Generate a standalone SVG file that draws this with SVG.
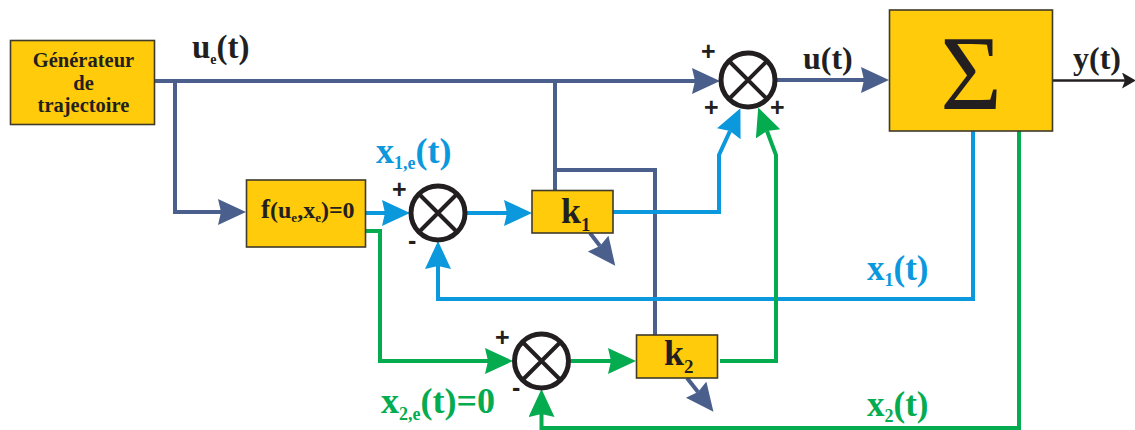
<svg xmlns="http://www.w3.org/2000/svg" width="1135" height="430" viewBox="0 0 1135 430">
<style>
.box{fill:#ffcb0a;stroke:#3f3a2a;stroke-width:1.6}
.sum{fill:#fff;stroke:#231f20;stroke-width:5}
.x{stroke:#231f20;stroke-width:4;fill:none}
.c{fill:none;stroke-width:4;stroke-linejoin:miter}
.n{stroke:#4a5f8c}.b{stroke:#0c98dd}.g{stroke:#04ab4f}
text{font-family:"Liberation Serif","Times New Roman",serif;font-weight:bold}
.k{fill:#231f20}.tb{fill:#0c98dd}.tg{fill:#04ab4f}
.s{font-size:32px}
.sg{font-family:"Liberation Sans",Arial,sans-serif;font-size:25px;fill:#231f20}
</style>
<defs>
<marker id="hn" markerUnits="userSpaceOnUse" markerWidth="30" markerHeight="28" refX="3" refY="13" orient="auto" viewBox="0 0 30 28"><path d="M0,0L28,13L0,26L3,13Z" fill="#4a5f8c"/></marker>
<marker id="hb" markerUnits="userSpaceOnUse" markerWidth="30" markerHeight="28" refX="3" refY="13" orient="auto" viewBox="0 0 30 28"><path d="M0,0L28,13L0,26L3,13Z" fill="#0c98dd"/></marker>
<marker id="hg" markerUnits="userSpaceOnUse" markerWidth="30" markerHeight="28" refX="3" refY="13" orient="auto" viewBox="0 0 30 28"><path d="M0,0L28,13L0,26L3,13Z" fill="#04ab4f"/></marker>
<marker id="hk" markerUnits="userSpaceOnUse" markerWidth="16" markerHeight="18" refX="3" refY="8" orient="auto" viewBox="0 0 16 18"><path d="M0,0L14,8L0,16L3,8Z" fill="#231f20"/></marker>
</defs>
<g id="connectors">
<path class="c n" d="M154,81H695" marker-end="url(#hn)"/>
<path class="c n" d="M175,81V212H221" marker-end="url(#hn)"/>
<path class="c n" d="M555,81V190"/>
<path class="c n" d="M555,170H655V335"/>
<path class="c n" d="M776,80H864" marker-end="url(#hn)"/>
<path class="c n" d="M590,233L600,246" marker-end="url(#hn)"/>
<path class="c n" d="M687,378L698,392" marker-end="url(#hn)"/>
<path d="M1052,80.500H1125" fill="none" stroke="#231f20" stroke-width="2.500" marker-end="url(#hk)"/>
<path class="c b" d="M365,213H385" marker-end="url(#hb)"/>
<path class="c b" d="M466,213H507" marker-end="url(#hb)"/>
<path class="c b" d="M613,212H719V155L730,131" marker-end="url(#hb)"/>
<path class="c b" d="M973,131V299H438V266" marker-end="url(#hb)"/>
<path class="c g" d="M365,231H380V361H488" marker-end="url(#hg)"/>
<path class="c g" d="M571,361H611" marker-end="url(#hg)"/>
<path class="c g" d="M720,361H776V155L767,131" marker-end="url(#hg)"/>
<path class="c g" d="M1019,131V428H541.500V414" marker-end="url(#hg)"/>
</g>
<g id="generateur"><rect class="box" x="10.500" y="40.500" width="144" height="84"/>
<text class="k" text-anchor="middle" font-size="20.500" x="83.500" y="67">Générateur</text>
<text class="k" text-anchor="middle" font-size="20.500" x="83.500" y="90">de</text>
<text class="k" text-anchor="middle" font-size="20.500" x="83.500" y="112">trajectoire</text></g>
<g id="f"><rect class="box" x="246.500" y="180" width="119" height="67"/>
<text class="k" x="261" y="218" font-size="27">f<tspan font-size="24">(u</tspan><tspan font-size="13" dy="4">e</tspan><tspan font-size="24" dy="-4">,x</tspan><tspan font-size="13" dy="4">e</tspan><tspan font-size="24" dy="-4">)=0</tspan></text></g>
<g id="k1"><rect class="box" x="532" y="190.500" width="81" height="42.500"/>
<text class="k" x="561" y="223" font-size="36">k<tspan font-size="19" dy="8">1</tspan></text></g>
<g id="k2"><rect class="box" x="636.500" y="335" width="81" height="43"/>
<text class="k" x="664" y="365" font-size="36">k<tspan font-size="19" dy="8">2</tspan></text></g>
<g id="plant"><rect class="box" x="889.500" y="10" width="163" height="121"/>
<text x="971" y="109" text-anchor="middle" font-size="106" class="k" style="font-weight:normal">Σ</text></g>
<g id="sum1"><circle class="sum" cx="748" cy="80" r="27"/><path class="x" d="M729,61L767,99M767,61L729,99"/></g>
<g id="sum2"><circle class="sum" cx="438" cy="213" r="27"/><path class="x" d="M419,194L457,232M457,194L419,232"/></g>
<g id="sum3"><circle class="sum" cx="541.500" cy="361" r="27"/><path class="x" d="M522.500,342L560.500,380M560.500,342L522.500,380"/></g>
<g id="labels">
<text class="k" x="192" y="58" font-size="33">u<tspan font-size="14" dy="6">e</tspan><tspan dy="-6">(t)</tspan></text>
<text class="k s" x="803" y="69">u(t)</text>
<text class="k s" x="1073" y="69">y(t)</text>
<text class="tb" x="376" y="163" font-size="36">x<tspan font-size="18" dy="6">1,e</tspan><tspan dy="-6">(t)</tspan></text>
<text class="tg" x="381" y="413" font-size="36">x<tspan font-size="18" dy="7">2,e</tspan><tspan dy="-7">(t)=0</tspan></text>
<text class="tb" x="867" y="280" font-size="35">x<tspan font-size="18" dy="6">1</tspan><tspan dy="-6">(t)</tspan></text>
<text class="tg" x="867" y="416" font-size="35">x<tspan font-size="18" dy="6">2</tspan><tspan dy="-6">(t)</tspan></text>
<text class="sg" x="701" y="60">+</text>
<text class="sg" x="704" y="116">+</text>
<text class="sg" x="770" y="116">+</text>
<text class="sg" x="392" y="198">+</text>
<text class="sg" x="495" y="346">+</text>
<text class="sg" x="408" y="249">-</text>
<text class="sg" x="512" y="396">-</text>
</g>
</svg>
